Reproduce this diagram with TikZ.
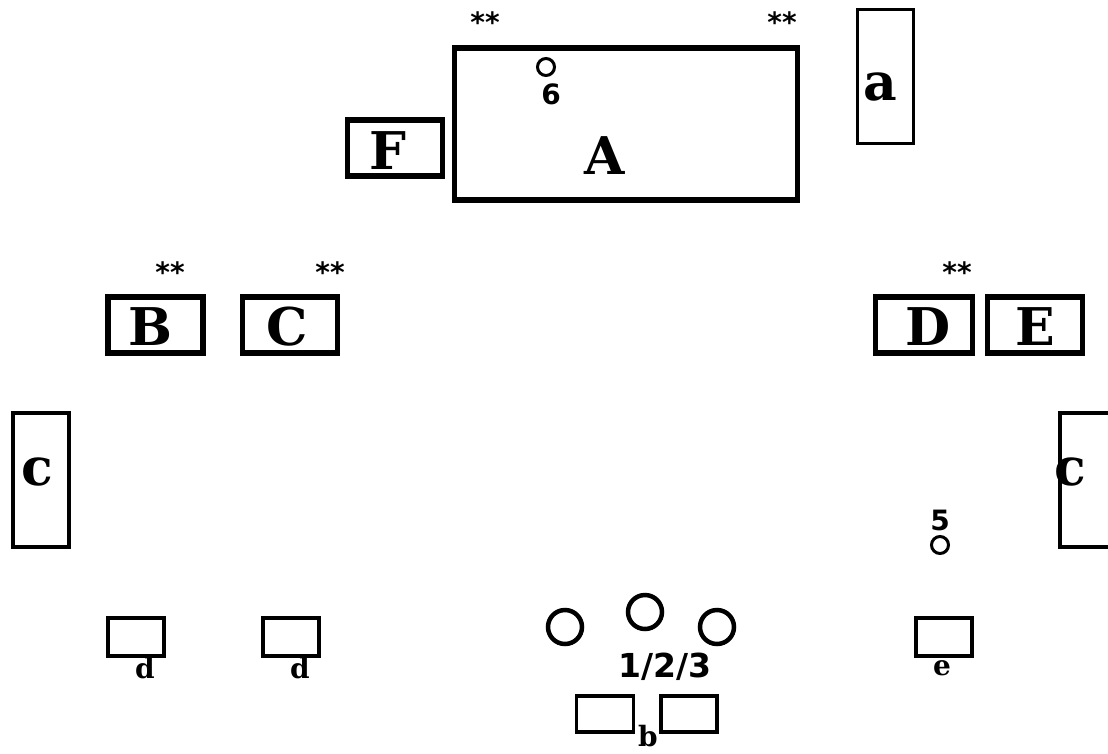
\documentclass[tikz,border=0pt]{standalone}
\usepackage{fontspec}
\newfontfamily\lettfont{DejaVu Serif}[BoldFont={DejaVu Serif Bold}]
\newfontfamily\numfont{DejaVu Sans}[BoldFont={DejaVu Sans Bold}]
\begin{document}
\begin{tikzpicture}[x=1pt,y=-1pt,
  thickbox/.style={draw,line width=5.5pt,inner sep=0pt,rectangle},
  thinbox/.style={draw,line width=3.5pt,inner sep=0pt,rectangle},
  bigl/.style={inner sep=0pt,font=\lettfont\bfseries\fontsize{52}{52}\selectfont},
  smalll/.style={inner sep=0pt,font=\lettfont\bfseries\fontsize{28}{28}\selectfont},
  numl/.style={inner sep=0pt,font=\numfont\bfseries\fontsize{28}{28}\selectfont},
  starl/.style={inner sep=0pt,font=\numfont\bfseries\fontsize{28}{28}\selectfont},
  bigc/.style={draw,circle,line width=4.5pt,minimum size=34pt,inner sep=0pt},
  smallc/.style={draw,circle,line width=3pt,minimum size=17pt,inner sep=0pt}]
\useasboundingbox (0,0) rectangle (1108,753);
\clip (0,0) rectangle (1108,753);
% top
\node[starl] (s1) at (485,22) {**};
\node[starl] (s2) at (782,22) {**};
\node[thickbox,minimum width=343pt,minimum height=152pt] (A) at (626,124) {};
\node[bigl] (Atxt) at (605,156) {A};
\node[smallc] (c6) at (546,67) {};
\node[numl] (n6) at (551,94) {6};
\node[thickbox,minimum width=95pt,minimum height=56pt] (F) at (395,148) {};
\node[bigl] (Ftxt) at (388,151) {F};
\node[thinbox,minimum width=56pt,minimum height=134pt] (a) at (885.5,76.5) {};
\node[bigl] (atxt) at (880,87) {a};
% middle row
\node[starl] (s3) at (170,272) {**};
\node[starl] (s4) at (330,272) {**};
\node[starl] (s5) at (957,272) {**};
\node[thickbox,minimum width=95pt,minimum height=56pt] (B) at (155.5,325) {};
\node[bigl] (Btxt) at (150,327) {B};
\node[thickbox,minimum width=95pt,minimum height=56pt] (C) at (290,325) {};
\node[bigl] (Ctxt) at (287,327) {C};
\node[thickbox,minimum width=97pt,minimum height=56pt] (D) at (924,325) {};
\node[bigl] (Dtxt) at (928,327) {D};
\node[thickbox,minimum width=95pt,minimum height=56pt] (E) at (1035,325) {};
\node[bigl] (Etxt) at (1035,327) {E};
% side c boxes
\node[thinbox,minimum width=56pt,minimum height=134pt] (cl) at (41,480) {};
\node[bigl] (cltxt) at (37,472) {c};
\node[thinbox,minimum width=56pt,minimum height=134pt] (cr) at (1088,480) {};
\node[bigl] (crtxt) at (1070,472) {c};
% 5
\node[numl] (n5) at (940,520) {5};
\node[smallc] (c5) at (940,545) {};
% bottom row
\node[thinbox,minimum width=56pt,minimum height=38pt] (d1) at (136,637) {};
\node[smalll] (d1t) at (145,668) {d};
\node[thinbox,minimum width=56pt,minimum height=38pt] (d2) at (291,637) {};
\node[smalll] (d2t) at (300,668) {d};
\node[bigc] (k1) at (565,627) {};
\node[bigc] (k2) at (645,612) {};
\node[bigc] (k3) at (717,627) {};
\node[numl,font=\numfont\bfseries\fontsize{33}{33}\selectfont] (n123) at (665,667) {1/2/3};
\node[thinbox,minimum width=57pt,minimum height=36pt] (b1) at (605,714) {};
\node[thinbox,minimum width=56pt,minimum height=36pt] (b2) at (689,714) {};
\node[smalll] (bt) at (648,736) {b};
\node[thinbox,minimum width=56pt,minimum height=38pt] (e) at (944,637) {};
\node[smalll] (et) at (942,668) {e};
\end{tikzpicture}
\end{document}
